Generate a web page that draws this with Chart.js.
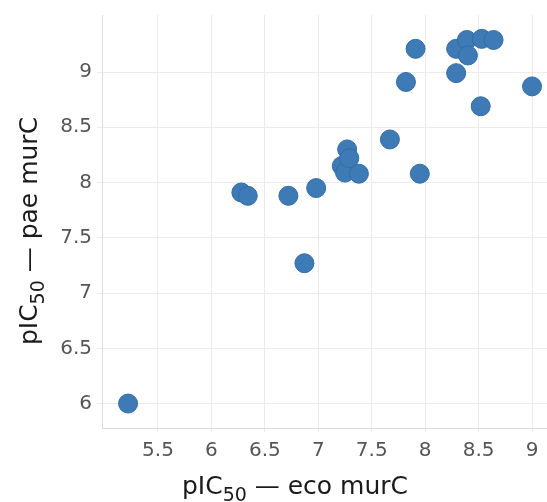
<!DOCTYPE html>
<html>
<head>
<meta charset="utf-8">
<script src="https://cdn.jsdelivr.net/npm/chart.js@4.4.0/dist/chart.umd.min.js"></script>
<style>
  html, body { margin: 0; padding: 0; background: #fff; overflow: hidden; }
  #wrap { width: 547px; height: 502px; }
</style>
</head>
<body>
<div id="wrap"><canvas id="scatter"></canvas></div>
<script>
// pIC50 values
const ecoValues = [5.22, 6.28, 6.34, 6.72, 6.87, 6.98, 7.22, 7.25, 7.27, 7.29, 7.38, 7.67, 7.82, 7.91, 7.95, 8.29, 8.29, 8.39, 8.40, 8.52, 8.53, 8.64, 9.00];
const paeValues = [6.00, 7.91, 7.88, 7.88, 7.27, 7.95, 8.15, 8.09, 8.30, 8.22, 8.08, 8.39, 8.91, 9.21, 8.08, 8.99, 9.21, 9.29, 9.15, 8.69, 9.30, 9.29, 8.87];
const xTicks = [5.5, 6, 6.5, 7, 7.5, 8, 8.5, 9];
const yTicks = [6, 6.5, 7, 7.5, 8, 8.5, 9];

const points = ecoValues.map((x, i) => ({ x: x, y: paeValues[i] }));

const fontFamily = '"DejaVu Sans", sans-serif';

// axis titles with a real subscript
function drawSubTitle(ctx, x, y, rotate, rest) {
    const parts = [['pIC', 25, 0], ['50', 19, 7], [' \u2014 ' + rest, 25, 0]];
    ctx.save();
    ctx.translate(x, y);
    if (rotate) ctx.rotate(-Math.PI / 2);
    ctx.fillStyle = '#1a1a1a';
    ctx.textBaseline = 'alphabetic';
    ctx.textAlign = 'left';
    let total = 0;
    parts.forEach(p => { ctx.font = p[1] + 'px ' + fontFamily; total += ctx.measureText(p[0]).width; });
    let cx = -total / 2;
    parts.forEach(p => {
        ctx.font = p[1] + 'px ' + fontFamily;
        ctx.fillText(p[0], cx, p[2]);
        cx += ctx.measureText(p[0]).width;
    });
    ctx.restore();
}

const titlePlugin = {
    id: 'titles',
    afterDraw(chart) {
        const ctx = chart.ctx;
        drawSubTitle(ctx, 295, 494, false, 'eco murC');
        drawSubTitle(ctx, 37, 231, true, 'pae murC');
    }
};

const ctx = document.getElementById('scatter').getContext('2d');
const scatterChart = new Chart(ctx, {
    type: 'scatter',
    data: {
        datasets: [{
            label: 'murC',
            data: points,
            backgroundColor: 'rgba(61, 122, 182, 1)',
            borderColor: 'rgba(52, 108, 163, 1)',
            borderWidth: 1,
            pointRadius: 9.5,
            pointHoverRadius: 9.5
        }]
    },
    options: {
        responsive: true,
        maintainAspectRatio: false,
        animation: false,
        layout: { autoPadding: false, padding: { top: 15, right: 0, left: 0, bottom: 0 } },
        plugins: {
            legend: { display: false },
            tooltip: { enabled: false }
        },
        scales: {
            x: {
                type: 'linear',
                min: 4.976,
                max: 9.14,
                afterBuildTicks: scale => { scale.ticks = xTicks.map(v => ({ value: v })); },
                afterFit: scale => { scale.height = 74; scale.paddingLeft = 0; scale.paddingRight = 0; },
                ticks: {
                    color: '#555555',
                    font: { family: fontFamily, size: 20 },
                    padding: 7,
                    maxRotation: 0,
                    callback: v => String(v)
                },
                grid: { color: '#ebebeb', tickLength: 4, tickColor: '#ebebeb' },
                border: { color: '#dcdcdc' }
            },
            y: {
                type: 'linear',
                min: 5.779,
                max: 9.516,
                afterBuildTicks: scale => { scale.ticks = yTicks.map(v => ({ value: v })); },
                afterFit: scale => { scale.width = 102; scale.paddingTop = 0; scale.paddingBottom = 0; },
                ticks: {
                    color: '#555555',
                    font: { family: fontFamily, size: 20 },
                    padding: 5,
                    callback: v => String(v)
                },
                grid: { color: '#ebebeb', tickLength: 5, tickColor: '#ebebeb' },
                border: { color: '#dcdcdc' }
            }
        }
    },
    plugins: [titlePlugin]
});
</script>
</body>
</html>
